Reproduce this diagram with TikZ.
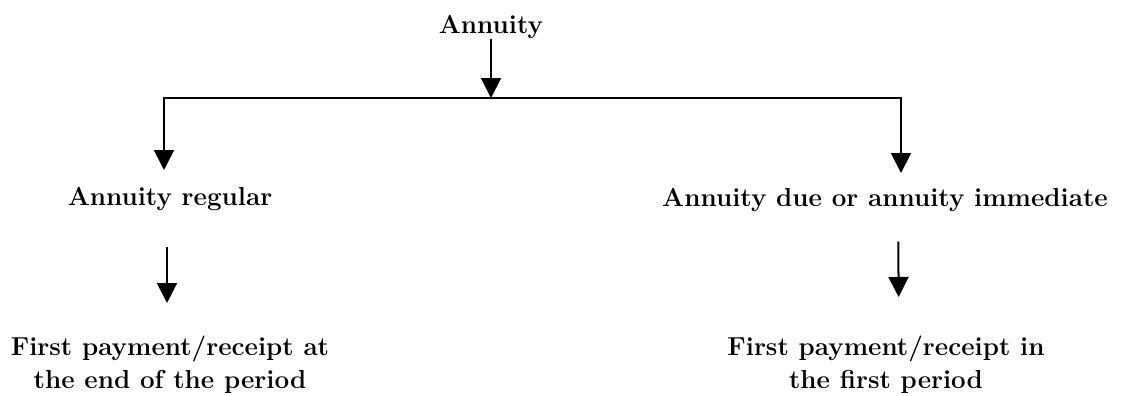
\documentclass[tikz,border=0pt]{standalone}
\usetikzlibrary{arrows.meta}

\tikzset{
  texto/.style={inner sep=0pt, font=\fontsize{13}{16.5}\selectfont\bfseries},
  seta/.style={line width=1pt, -{Triangle[width=10pt,length=10pt]}}
}

\begin{document}
\begin{tikzpicture}[x=0.5pt, y=-0.5pt]
        % 1. AREA DO DESENHO (mesmas proporcoes da figura)
        \useasboundingbox (0,0) rectangle (1126,396);

        % ==========================================
        % 2. TEXTOS
        % ==========================================
        \node[texto, anchor=base] (annuity) at (491,33) {Annuity};
        \node[texto, anchor=base] (regular) at (170,205) {Annuity regular};
        \node[texto, anchor=base] (due) at (885,206) {Annuity due or annuity immediate};

        % Textos de duas linhas
        \node[texto, anchor=north, align=center] (fimL) at (170,336) {First payment/receipt at\\the end of the period};
        \node[texto, anchor=north, align=center] (fimR) at (886,336) {First payment/receipt in\\the first period};

        % ==========================================
        % 3. LIGACOES
        % ==========================================
        \coordinate (junc) at (491,98);
        \coordinate (ltip) at (164,170);
        \coordinate (rtip) at (901,173);

        % Seta de cima ate a linha horizontal
        \draw[seta] (annuity) -- (junc);

        % Ramos para a esquerda e para a direita
        \draw[seta] (junc) -| (ltip);
        \draw[seta] (junc) -| (rtip);

        % Setas do segundo nivel
        \draw[seta, shorten <=18pt, shorten >=16.5pt] ([xshift=-1.5pt]regular.south) -- ([xshift=-1.5pt]fimL.north);
        \draw[seta, shorten <=15pt, shorten >=19.5pt] ([xshift=6.5pt]due.south) -- ([xshift=6.5pt]fimR.north);
    \end{tikzpicture}
\end{document}
